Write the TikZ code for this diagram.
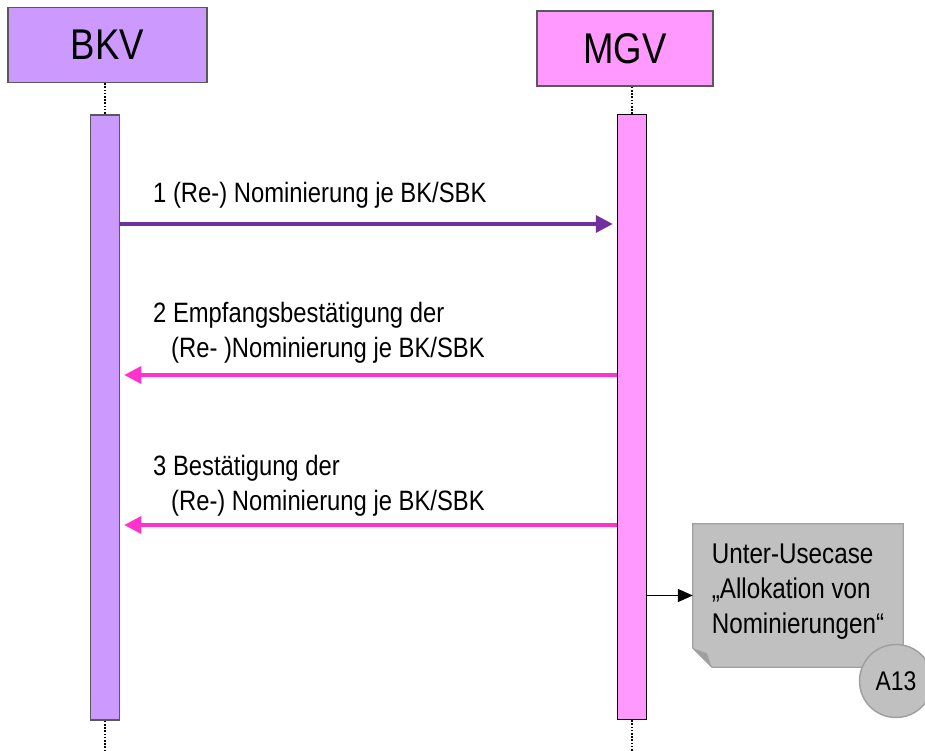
\documentclass[tikz,border=0pt]{standalone}
\usepackage{fontspec}
\setmainfont[FakeStretch=0.85]{Liberation Sans}
\usetikzlibrary{arrows.meta}

\definecolor{bkvlila}{HTML}{CC99FF}
\definecolor{mgvpink}{HTML}{FF99FF}
\definecolor{msgpurple}{HTML}{7030A0}
\definecolor{msgpink}{HTML}{FF33CC}
\definecolor{notegray}{HTML}{C0C0C0}
\definecolor{notedark}{HTML}{A0A0A0}
\definecolor{rimgray}{HTML}{595959}

\begin{document}
\begin{tikzpicture}[x=1pt,y=-1pt,
  actor/.style={draw=rimgray, line width=1.5pt, minimum width=#1, minimum height=75pt,
    inner sep=0pt, font=\fontsize{43}{46}\selectfont},
  actbar/.style={line width=1.5pt, minimum width=29pt, minimum height=605pt, inner sep=0pt},
  lifeline/.style={line width=1.6pt, dash pattern=on 1.6pt off 1.6pt},
  msgtext/.style={anchor=base west, align=left, inner sep=0pt, font=\fontsize{28}{35}\selectfont},
  msgarrow/.style={line width=3.5pt, -{Triangle[length=17pt,width=17pt]}, shorten >=4pt}]

\useasboundingbox (0,0) rectangle (925,751) ;

\node [actor=199pt, fill=bkvlila] (bkv) at (107.5,45) {BKV} ;
\node [actor=176pt, fill=mgvpink] (mgv) at (625,48.5) {MGV} ;

\node [actbar, draw=rimgray, fill=bkvlila] (bkvbar) at (105,417.5) {} ;
\node [actbar, draw=black, fill=mgvpink] (mgvbar) at (632,417) {} ;

\coordinate (bottom) at (0,751) ;
\draw [lifeline] (bkvbar.north |- bkv.south) to (bkvbar.north) ;
\draw [lifeline] (mgvbar.north |- mgv.south) to (mgvbar.north) ;
\draw [lifeline] (bkvbar.south) to (bkvbar.south |- bottom) ;
\draw [lifeline] (mgvbar.south) to (mgvbar.south |- bottom) ;

\coordinate (m1) at (0,224) ;
\coordinate (m2) at (0,375) ;
\coordinate (m3) at (0,525) ;

\draw [msgarrow, msgpurple] (bkvbar.east |- m1) to (mgvbar.west |- m1) ;
\draw [msgarrow, msgpink] (mgvbar.west |- m2) to (bkvbar.east |- m2) ;
\draw [msgarrow, msgpink] (mgvbar.west |- m3) to (bkvbar.east |- m3) ;

\node [msgtext] (t1) at (153,203) {1 (Re-) Nominierung je BK/SBK} ;
\node [msgtext] (t2) at (153,357) {2 Empfangsbestätigung der\\\hspace*{18pt}(Re- )Nominierung je BK/SBK} ;
\node [msgtext] (t3) at (153,510) {3 Bestätigung der\\\hspace*{18pt}(Re-) Nominierung je BK/SBK} ;

\node [minimum width=210pt, minimum height=143pt, inner sep=0pt] (note) at (798,595.5) {} ;
\draw [notedark, fill=notegray, line width=1.2pt] (note.north west) -- (note.north east)
  -- (note.south east) -- ([xshift=19pt]note.south west) -- ([yshift=19pt]note.south west) -- cycle ;
\fill [notedark] ([yshift=19pt]note.south west) -- ([xshift=19pt]note.south west)
  -- ([xshift=14pt,yshift=14pt]note.south west) -- cycle ;
\node [align=left, inner sep=0pt, font=\fontsize{28.5}{35}\selectfont] (notetext) at ([yshift=4pt]note)
  {Unter-Usecase\\„Allokation von\\Nominierungen“} ;

\draw [line width=1.5pt, -{Triangle[length=15pt,width=13pt]}] (mgvbar.east |- note.west) to (note.west) ;

\node [circle, draw=notedark, fill=notegray, line width=1.5pt, minimum size=73pt, inner sep=0pt,
  font=\fontsize{27}{30}\selectfont] (a13) at (896,681) {A13} ;

\end{tikzpicture}
\end{document}
